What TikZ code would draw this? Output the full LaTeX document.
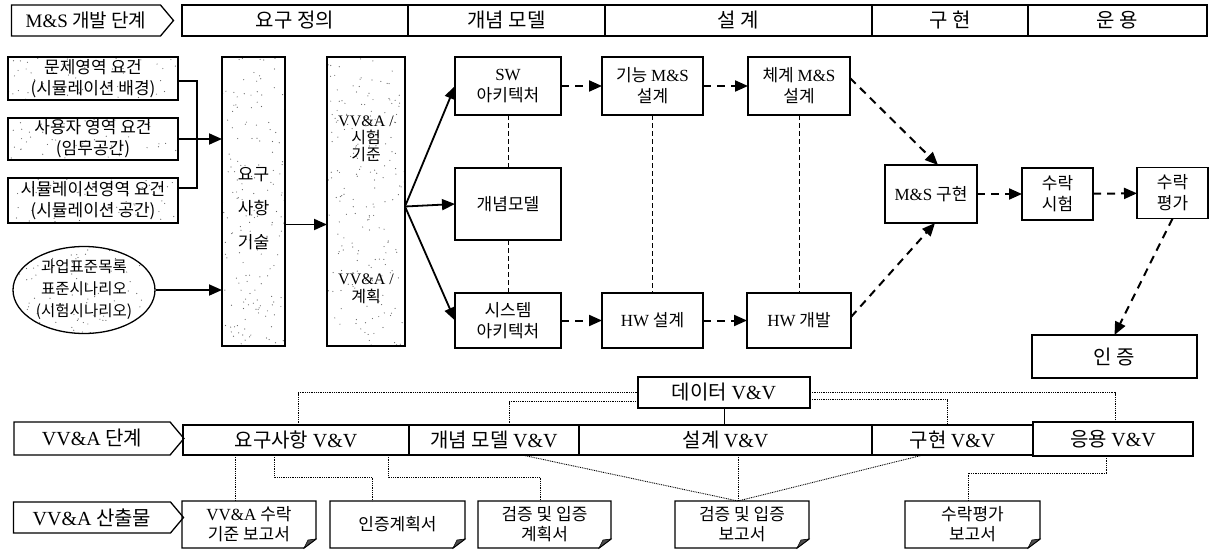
\documentclass[tikz,border=0pt]{standalone}
\usepackage{fontspec}
\setmainfont{Liberation Serif}
\newfontfamily\kr{Noto Sans CJK KR}
\usetikzlibrary{arrows.meta,calc,shapes.geometric,shapes.symbols}
\newcommand\lt[1]{{\rmfamily #1}}
\newcommand\fz[2]{\fontsize{#1}{#2}\selectfont\kr}
\newcommand\docframe[1]{%
  \draw[line width=1.3pt] (#1.north west) -- (#1.north east) -- ([yshift=9pt]#1.south east) -- ([xshift=-12pt]#1.south east) -- (#1.south west) -- cycle;
  \filldraw[line width=0.6pt, fill=black!70] ([yshift=9pt]#1.south east) -- ([xshift=-12pt]#1.south east) -- ([xshift=-8pt,yshift=8pt]#1.south east) -- cycle;}
\begin{document}
\begin{tikzpicture}[x=1pt,y=-1pt,
  box/.style={draw, line width=1.3pt, align=center, inner sep=0pt, outer sep=0pt, font=\fz{17}{21}},
  cell/.style={draw, line width=1.3pt, inner sep=0pt, outer sep=0pt, minimum height=31pt, font=\fz{20}{22}},
  bcell/.style={draw, line width=1.3pt, inner sep=0pt, outer sep=0pt, minimum height=30pt, font=\fz{20}{22}},
  tag/.style={draw, signal, signal to=east, signal pointer angle=100, line width=1.3pt, inner sep=0pt, outer sep=0pt, font=\fz{20}{22}},
  doc/.style={align=center, inner sep=0pt, outer sep=0pt, minimum width=134pt, minimum height=47pt, font=\fz{17}{20}},
  arr/.style={line width=1.8pt, -{Triangle[length=13pt,width=11pt]}},
  darr/.style={arr, line width=2pt, dash pattern=on 8pt off 6pt},
  vdash/.style={line width=1pt, dash pattern=on 5pt off 3pt},
  dotl/.style={line width=0.9pt, dash pattern=on 0.9pt off 0.9pt},
  speckle/.style={path picture={
    \coordinate (pA) at (path picture bounding box.south west);
    \coordinate (pB) at (path picture bounding box.south east);
    \coordinate (pC) at (path picture bounding box.north west);
    \foreach \k in {1,...,#1}{
      \pgfmathsetmacro\spx{rnd}\pgfmathsetmacro\spy{rnd}
      \fill[black!60] ($(pA)!\spx!(pB)+(pA)!\spy!(pC)-(pA)$) circle[radius=0.6pt];
    }}}
]
\useasboundingbox (0,0) rectangle (1218,551);
\pgfmathsetseed{7}

% ---------- top phase bar
\node[tag, minimum width=162pt, minimum height=31pt, font=\fz{19}{21}] (devtag) at (86,20.5) {\lt{M\&S} 개발 단계};
\node[cell, minimum width=226pt] (t1) at (295,20.5) {요구 정의};
\node[cell, minimum width=197pt] (t2) at (506.5,20.5) {개념 모델};
\node[cell, minimum width=267pt] (t3) at (738.5,20.5) {설 계};
\node[cell, minimum width=156pt] (t4) at (950,20.5) {구 현};
\node[cell, minimum width=179pt] (t5) at (1117.5,20.5) {운 용};

% ---------- left inputs
\node[box, speckle=55, minimum width=170pt, minimum height=43pt] (b1) at (93,78.5) {문제영역 요건\\(시뮬레이션 배경)};
\node[box, speckle=55, minimum width=170pt, minimum height=42pt] (b2) at (93,139) {사용자 영역 요건\\(임무공간)};
\node[box, speckle=55, minimum width=170pt, minimum height=45pt] (b3) at (93,200.5) {시뮬레이션영역 요건\\(시뮬레이션 공간)};
\node[draw, ellipse, line width=1.3pt, speckle=80, minimum width=142pt, minimum height=87pt, inner sep=0pt, align=center, font=\fz{15.5}{22}] (ell) at (84,290) {과업표준목록\\표준시나리오\\(시험시나리오)};

% ---------- columns
\node[box, speckle=170, minimum width=63pt, minimum height=289pt] (req) at (253.5,201.5) {};
\node[font=\fz{17}{34}, align=center, inner sep=0pt] (reqt) at (253.5,209) {요구\\사항\\기술};
\node[box, speckle=200, minimum width=78pt, minimum height=289pt] (vva) at (366,201.5) {};
\node[font=\fz{16}{17}, align=center, inner sep=0pt] (vva1) at (366,138.5) {\lt{VV\&A /}\\시험\\기준};
\node[font=\fz{16}{18}, align=center, inner sep=0pt] (vva2) at (366,289) {\lt{VV\&A /}\\계획};

% ---------- concept / design boxes
\node[box, minimum width=106pt, minimum height=58pt] (sw) at (508,86) {\lt{SW}\\아키텍처};
\node[box, minimum width=106pt, minimum height=72pt] (cm) at (508,204) {개념모델};
\node[box, minimum width=106pt, minimum height=55pt] (sys) at (508,320.5) {시스템\\아키텍처};
\node[box, minimum width=101pt, minimum height=58pt] (fn) at (652.5,86) {기능 \lt{M\&S}\\설계};
\node[box, minimum width=102pt, minimum height=58pt] (ch) at (799,86) {체계 \lt{M\&S}\\설계};
\node[box, minimum width=101pt, minimum height=55pt] (hwd) at (652.5,320.5) {\lt{HW} 설계};
\node[box, minimum width=104pt, minimum height=55pt] (hwv) at (799,320.5) {\lt{HW} 개발};
\node[box, minimum width=92pt, minimum height=58pt] (ms) at (931,194) {\lt{M\&S} 구현};
\node[box, minimum width=71pt, minimum height=52pt] (at) at (1057.5,194) {수락\\시험};
\node[box, minimum width=71pt, minimum height=51pt] (ae) at (1172.5,193) {수락\\평가};
\node[box, minimum width=165pt, minimum height=43pt, font=\fz{20}{22}] (cert) at (1114.5,356.5) {인 증};

% ---------- upper connectors
\coordinate (j) at (197,139);
\draw[line width=1.5pt] ([yshift=-2.5pt]b1.east) -| (j) |- ([yshift=12.5pt]b3.east);
\draw[arr] (b2.east) -- (b2.east -| req.west);
\draw[arr] (ell.east) -- (ell.east -| req.west);
\draw[arr] ([yshift=-23pt]req.east) -- ([yshift=-23pt]vva.west);
\coordinate (fan) at ([yshift=-5pt]vva.east);
\draw[arr] (fan) -- (sw.west);
\draw[arr] (fan) -- (cm.west);
\draw[arr] (fan) -- (sys.west);
\draw[vdash] (sw) -- (cm);
\draw[vdash] (cm) -- (sys);
\draw[vdash] (fn) -- (hwd);
\draw[vdash] (ch) -- (hwv);
\draw[darr] (sw) -- (fn);
\draw[darr] (fn) -- (ch);
\draw[darr] (sys) -- (hwd);
\draw[darr] (hwd) -- (hwv);
\draw[darr] ([yshift=8pt]ch.east) -- ([xshift=7pt]ms.north);
\draw[darr] ([yshift=3.5pt]hwv.east) -- ([xshift=4pt]ms.south);
\draw[darr] (ms) -- (at);
\draw[darr] (at) -- (ae);
\draw[darr] (ae.south) -- (cert.north);

% ---------- VV&A phase bar
\node[tag, minimum width=170pt, minimum height=33pt] (vvtag) at (92,438.5) {\lt{VV\&A} 단계};
\node[bcell, minimum width=226pt] (rq) at (296,440) {요구사항 \lt{V\&V}};
\node[bcell, minimum width=170pt] (cn) at (494,440) {개념 모델 \lt{V\&V}};
\node[bcell, minimum width=293pt] (ds) at (725.5,440) {설계 \lt{V\&V}};
\node[bcell, minimum width=161pt] (im) at (952.5,440) {구현 \lt{V\&V}};
\node[bcell, line width=2pt, minimum width=160pt, minimum height=34pt] (ap) at (1113,439) {응용 \lt{V\&V}};
\node[bcell, minimum width=172pt, minimum height=31pt] (data) at (724,392.5) {데이터 \lt{V\&V}};

% ---------- products
\node[tag, minimum width=170pt, minimum height=31pt] (prtag) at (92,517.5) {\lt{VV\&A} 산출물};
\node[doc] (d1) at (249,524.5) {\lt{VV\&A} 수락\\기준 보고서};
\node[doc, minimum width=135pt] (d2) at (397.5,524.5) {인증계획서};
\node[doc, minimum width=133pt] (d3) at (544.5,524.5) {검증 및 입증\\계획서};
\node[doc] (d4) at (742,524.5) {검증 및 입증\\보고서};
\node[doc, minimum width=135pt] (d5) at (972.5,524.5) {수락평가\\보고서};
\docframe{d1}\docframe{d2}\docframe{d3}\docframe{d4}\docframe{d5}

% ---------- dotted connectors
\draw[dotl] ([xshift=115pt]rq.north west) |- (data.west);
\draw[dotl] ([xshift=100pt]cn.north west) |- ([yshift=-9pt]data.west);
\draw[line width=0.9pt] (data.south) -- (data.south |- ds.north);
\draw[dotl] (data.east) -| ([xshift=82pt]ap.north west);
\draw[dotl] ([yshift=-7pt]data.east) -| ([xshift=75pt]im.north west);
\draw[dotl] ([xshift=52pt]rq.south west) -- ([xshift=53pt]d1.north west);
\draw[dotl] ([xshift=91pt]rq.south west) -- ++(0,22) -| ([xshift=42pt]d2.north west);
\draw[dotl] ([xshift=205pt]rq.south west) -- ++(0,22) -| ([xshift=62pt]d3.north west);
\draw[dotl] ([xshift=113pt]cn.south west) -- ([xshift=-4pt]d4.north);
\draw[dotl] ([xshift=-4pt]d4.north |- ds.south) -- ([xshift=-4pt]d4.north);
\draw[dotl] ([xshift=51pt]im.south west) -- ([xshift=-4pt]d4.north);
\draw[dotl] ([xshift=73pt]ap.south west) -- ++(0,17) -| ([xshift=63pt]d5.north west);
\end{tikzpicture}
\end{document}
